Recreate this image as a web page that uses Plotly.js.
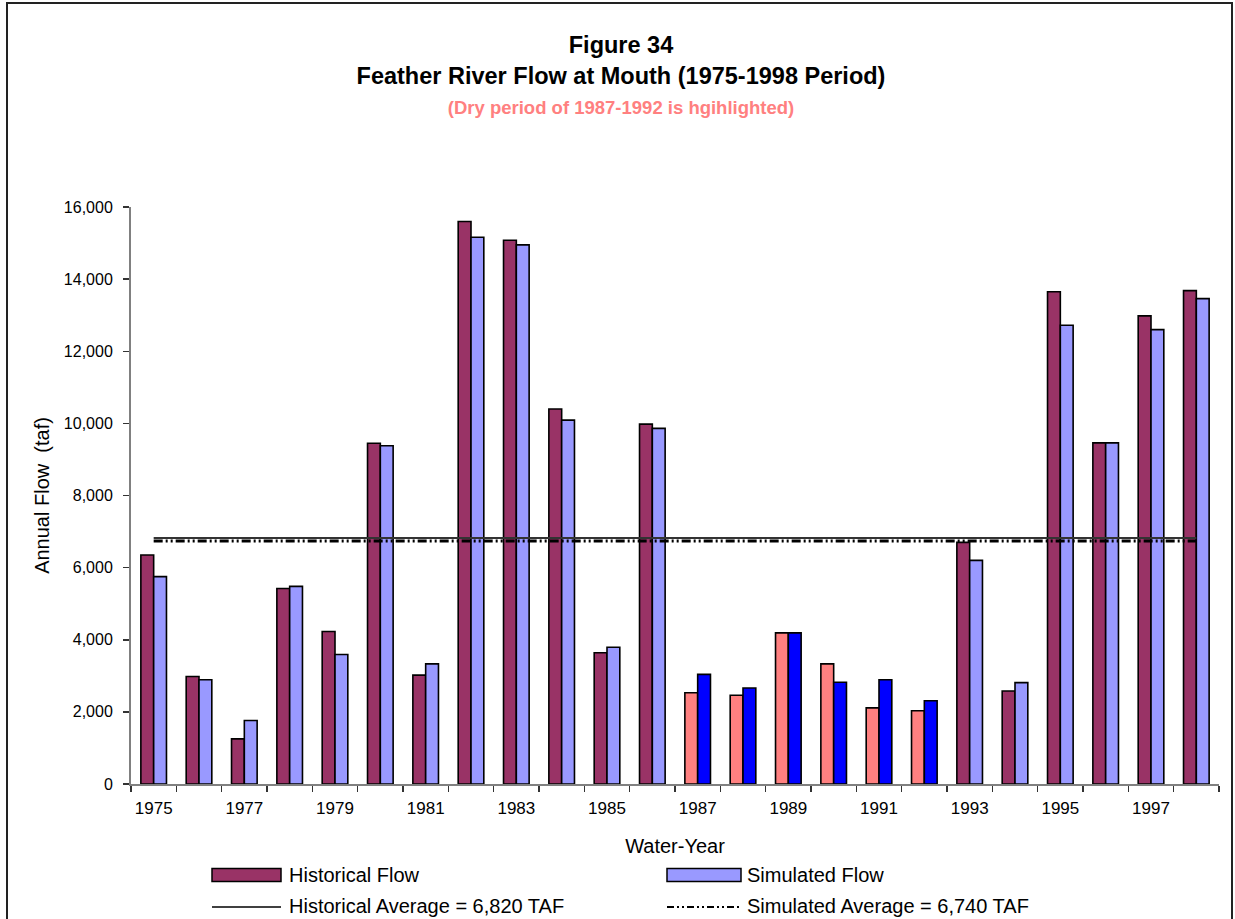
<!DOCTYPE html>
<html>
<head>
<meta charset="utf-8">
<script src="https://cdn.plot.ly/plotly-3.0.1.min.js"></script>
<style>
  html, body { margin: 0; padding: 0; background: #ffffff; }
  #chart { width: 1235px; height: 919px; }
</style>
</head>
<body>
<div id="chart"></div>
<script>
// ---- Data ----
const years = ['1975','1976','1977','1978','1979','1980','1981','1982','1983','1984','1985','1986',
               '1987','1988','1989','1990','1991','1992','1993','1994','1995','1996','1997','1998'];
const historicalFlow = [6350, 2980, 1250, 5420, 4230, 9450, 3020, 15600, 15080, 10400, 3640, 9980,
                        2530, 2460, 4190, 3330, 2110, 2030, 6700, 2580, 13650, 9460, 12980, 13680];
const simulatedFlow  = [5750, 2890, 1760, 5480, 3590, 9380, 3330, 15160, 14950, 10090, 3790, 9860,
                        3040, 2660, 4190, 2820, 2890, 2310, 6200, 2810, 12720, 9460, 12600, 13460];
const dryYears = ['1987','1988','1989','1990','1991','1992'];
const historicalAverage = 6820;
const simulatedAverage = 6740;
const seriesNames = ['Historical Flow', 'Simulated Flow',
                     'Historical Average = 6,820 TAF', 'Simulated Average = 6,740 TAF'];
const xTickLabels = ['1975','','1977','','1979','','1981','','1983','','1985','',
                     '1987','','1989','','1991','','1993','','1995','','1997',''];

// ---- Styles ----
const histColor = '#993366', simColor = '#9999FF';
const histDryColor = '#FF8080', simDryColor = '#0000FF';
const simDash = '9px,3px,2px,3px,2px,3px';

const histColors = years.map(y => dryYears.includes(y) ? histDryColor : histColor);
const simColors  = years.map(y => dryYears.includes(y) ? simDryColor : simColor);

const FONT = '"Liberation Sans", Arial, sans-serif';

const traces = [
  { type: 'bar', name: seriesNames[0], x: years, y: historicalFlow,
    marker: { color: histColors, line: { color: '#000000', width: 1.6 } } },
  { type: 'bar', name: seriesNames[1], x: years, y: simulatedFlow,
    marker: { color: simColors, line: { color: '#000000', width: 1.6 } } },
  { type: 'scatter', mode: 'lines', name: seriesNames[2],
    x: [years[0], years[years.length - 1]], y: [historicalAverage, historicalAverage],
    line: { color: '#333333', width: 2 } },
  { type: 'scatter', mode: 'lines', name: seriesNames[3],
    x: [years[0], years[years.length - 1]], y: [simulatedAverage, simulatedAverage],
    line: { color: '#000000', width: 3, dash: simDash } }
];

// ---- Custom legend (paper coords) ----
const L = 131, R = 1219, T = 207, B = 784;
const px = v => (v - L) / (R - L);
const py = v => (B - v) / (B - T);

const shapes = [
  // outer frame
  { type: 'rect', xref: 'paper', yref: 'paper', x0: px(7), x1: px(1232), y0: py(940), y1: py(3),
    line: { color: '#222222', width: 2 }, fillcolor: 'rgba(0,0,0,0)', layer: 'below' },
  // legend swatches
  { type: 'rect', xref: 'paper', yref: 'paper', x0: px(212), x1: px(281), y0: py(881.5), y1: py(868.5),
    line: { color: '#000000', width: 1.5 }, fillcolor: histColor },
  { type: 'rect', xref: 'paper', yref: 'paper', x0: px(667), x1: px(741), y0: py(881.5), y1: py(868.5),
    line: { color: '#000000', width: 1.5 }, fillcolor: simColor },
  { type: 'line', xref: 'paper', yref: 'paper', x0: px(212), x1: px(281), y0: py(907), y1: py(907),
    line: { color: '#000000', width: 1.5 } },
  { type: 'line', xref: 'paper', yref: 'paper', x0: px(667), x1: px(741), y0: py(907), y1: py(907),
    line: { color: '#000000', width: 2, dash: '7px,3px,2px,3px,2px,3px' } }
];

const legendFont = { family: FONT, size: 20, color: '#000000' };
const annotations = [
  { xref: 'paper', yref: 'paper', x: px(287), y: py(875), xanchor: 'left', yanchor: 'middle',
    text: seriesNames[0], showarrow: false, font: legendFont },
  { xref: 'paper', yref: 'paper', x: px(745), y: py(875), xanchor: 'left', yanchor: 'middle',
    text: seriesNames[1], showarrow: false, font: legendFont },
  { xref: 'paper', yref: 'paper', x: px(287), y: py(906), xanchor: 'left', yanchor: 'middle',
    text: seriesNames[2], showarrow: false, font: legendFont },
  { xref: 'paper', yref: 'paper', x: px(745), y: py(906), xanchor: 'left', yanchor: 'middle',
    text: seriesNames[3], showarrow: false, font: legendFont }
];

const layout = {
  width: 1235, height: 919,
  paper_bgcolor: '#ffffff', plot_bgcolor: '#ffffff',
  margin: { l: L, r: 1235 - R, t: T, b: 919 - B, pad: 0 },
  font: { family: FONT, color: '#000000' },
  separators: '.,',
  showlegend: false,
  barmode: 'group', bargap: 0.435, bargroupgap: 0,
  title: {
    text: 'Figure 34<br>Feather River Flow at Mouth (1975-1998 Period)<br>' +
          '<span style="font-size:18.5px;color:#FF8080">(Dry period of 1987-1992 is hgihlighted)</span>',
    font: { family: FONT, size: 23.5, color: '#000000', weight: 'bold' },
    xref: 'container', x: 621 / 1235, xanchor: 'center',
    yref: 'container', y: 1 - 53 / 919, yanchor: 'top'
  },
  xaxis: {
    type: 'category',
    tickvals: years, ticktext: xTickLabels,
    tickson: 'boundaries', tickangle: 0,
    ticks: 'outside', ticklen: 6, tickwidth: 1.5, tickcolor: '#333333',
    showline: true, linecolor: '#808080', linewidth: 2,
    showgrid: false, zeroline: false,
    tickfont: { family: FONT, size: 17, color: '#000000' },
    ticklabelstandoff: 8,
    title: { text: 'Water-Year', font: { family: FONT, size: 20, color: '#000000' }, standoff: 22 },
    automargin: false
  },
  yaxis: {
    range: [0, 16000], dtick: 2000, tickformat: ',d',
    ticks: 'outside', ticklen: 6, tickwidth: 1.5, tickcolor: '#333333',
    showline: true, linecolor: '#808080', linewidth: 2,
    showgrid: false, zeroline: false,
    tickfont: { family: FONT, size: 16, color: '#000000' },
    ticklabelstandoff: 7,
    title: { text: 'Annual Flow  (taf)', font: { family: FONT, size: 20, color: '#000000' }, standoff: 9 },
    automargin: false
  },
  shapes: shapes,
  annotations: annotations
};

Plotly.newPlot('chart', traces, layout, { staticPlot: true, displayModeBar: false });
</script>
</body>
</html>
